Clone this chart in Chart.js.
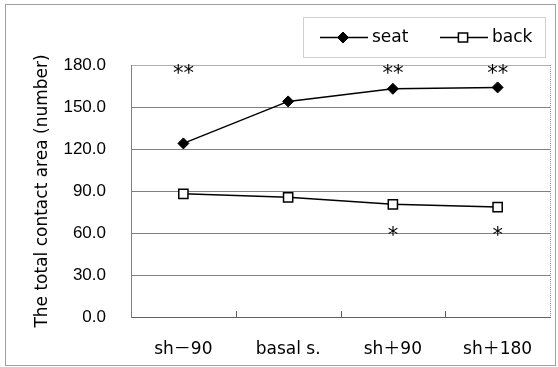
<!DOCTYPE html>
<html>
<head>
<meta charset="utf-8">
<script src="https://cdn.jsdelivr.net/npm/chart.js@4/dist/chart.umd.min.js"></script>
<style>
  html, body { margin: 0; padding: 0; background: #fff; }
  #box { width: 558px; height: 367px; }
</style>
</head>
<body>
<div id="box"><canvas id="grafico"></canvas></div>
<script>
// dati
var categorie = ['sh－90', 'basal s.', 'sh＋90', 'sh＋180'];
var valoriSeat = [124, 154, 163, 164];
var valoriBack = [88, 85.5, 80.5, 78.5];
var tickY = [0, 30, 60, 90, 120, 150, 180];

// asterischi di significativita'
var asterischiSeat = ['**', '', '**', '**'];
var asterischiBack = ['', '', '*', '*'];
var quotaAsterischiSeat = 176;
var quotaAsterischiBack = 60;

var nero = '#000000';

// cornice esterna, bordo destro, tacche asse x, asterischi e legenda
var pluginExtra = {
  id: 'extra',
  afterDraw: function(chart) {
    var ctx = chart.ctx;
    var area = chart.chartArea;
    var sx = chart.scales.x;
    var sy = chart.scales.y;
    ctx.save();

    // cornice esterna
    ctx.strokeStyle = '#a0a0a0';
    ctx.lineWidth = 1;
    ctx.strokeRect(5.5, 4.5, 550, 361);

    // bordo destro tratteggiato
    ctx.strokeStyle = '#909090';
    ctx.setLineDash([1, 1]);
    ctx.beginPath();
    ctx.moveTo(Math.round(area.right) + 0.5, area.top);
    ctx.lineTo(Math.round(area.right) + 0.5, area.bottom);
    ctx.stroke();
    ctx.setLineDash([]);

    // tacche verso l'interno fra le categorie
    ctx.strokeStyle = '#606060';
    ctx.beginPath();
    for (var i = 1; i < categorie.length; i++) {
      var xm = Math.round((sx.getPixelForValue(i - 1) + sx.getPixelForValue(i)) / 2) + 0.5;
      ctx.moveTo(xm, area.bottom);
      ctx.lineTo(xm, area.bottom - 6);
    }
    ctx.stroke();

    // asterischi
    ctx.fillStyle = nero;
    ctx.font = '21px "DejaVu Sans"';
    ctx.textAlign = 'center';
    ctx.textBaseline = 'middle';
    for (var j = 0; j < categorie.length; j++) {
      var x = sx.getPixelForValue(j);
      if (asterischiSeat[j]) ctx.fillText(asterischiSeat[j], x, sy.getPixelForValue(quotaAsterischiSeat) + 4);
      if (asterischiBack[j]) ctx.fillText(asterischiBack[j], x, sy.getPixelForValue(quotaAsterischiBack) + 4);
    }

    // legenda
    ctx.strokeStyle = '#a0a0a0';
    ctx.lineWidth = 1;
    ctx.setLineDash([1, 1]);
    ctx.strokeRect(303.5, 17.5, 242, 40);
    ctx.setLineDash([]);
    var yl = 37.5;
    var voci = chart.data.datasets;
    var xs = [320, 440];
    ctx.font = '17px "DejaVu Sans"';
    ctx.textAlign = 'left';
    for (var k = 0; k < voci.length; k++) {
      var d = voci[k];
      ctx.strokeStyle = d.borderColor;
      ctx.lineWidth = 1.5;
      ctx.beginPath();
      ctx.moveTo(xs[k], yl);
      ctx.lineTo(xs[k] + 48, yl);
      ctx.stroke();
      ctx.fillStyle = d.pointBackgroundColor;
      ctx.strokeStyle = d.pointBorderColor;
      ctx.lineWidth = d.pointBorderWidth;
      Chart.helpers.drawPoint(ctx, {
        pointStyle: d.pointStyle,
        radius: d.pointRadius,
        borderWidth: d.pointBorderWidth
      }, xs[k] + 23, yl);
      ctx.fillStyle = nero;
      ctx.fillText(d.label, xs[k] + 52, yl);
    }
    ctx.restore();
  }
};

var dati = {
  labels: categorie,
  datasets: [{
    label: 'seat',
    data: valoriSeat,
    borderColor: nero,
    backgroundColor: nero,
    borderWidth: 1.5,
    pointStyle: 'rectRot',
    pointRadius: 5.5,
    pointBackgroundColor: nero,
    pointBorderColor: nero,
    pointBorderWidth: 1
  },
  {
    label: 'back',
    data: valoriBack,
    borderColor: nero,
    backgroundColor: '#ffffff',
    borderWidth: 1.5,
    pointStyle: 'rect',
    pointRadius: 6.5,
    pointBackgroundColor: '#ffffff',
    pointBorderColor: nero,
    pointBorderWidth: 1.5
  }]
};

var opzioni = {
  responsive: true,
  maintainAspectRatio: false,
  animation: false,
  layout: { padding: { top: 65, right: 5, bottom: 0, left: 0 } },
  plugins: {
    legend: { display: false },
    tooltip: { enabled: false }
  },
  scales: {
    x: {
      offset: true,
      grid: { display: false, drawTicks: false },
      border: { display: true, color: '#606060', width: 1 },
      ticks: {
        padding: 22,
        color: nero,
        font: { family: '"DejaVu Sans", "Noto Sans CJK JP"', size: 17 }
      },
      afterFit: function(scale) { scale.height = 50; }
    },
    y: {
      min: 0,
      max: 180,
      afterBuildTicks: function(scale) {
        scale.ticks = tickY.map(function(v) { return { value: v }; });
      },
      grid: {
        drawTicks: false,
        color: function(c) { return c.tick && c.tick.value === 180 ? '#b0b0b0' : '#808080'; }
      },
      border: { display: true, color: '#808080', width: 1 },
      ticks: {
        padding: 25,
        color: nero,
        font: { family: '"Liberation Sans"', size: 17 },
        callback: function(v) { return Number(v).toFixed(1); }
      },
      title: {
        display: true,
        text: 'The total contact area (number)',
        color: nero,
        padding: { top: 32, bottom: 0 },
        font: { family: '"DejaVu Sans"', size: 17 }
      },
      afterFit: function(scale) { scale.width = 131; }
    }
  }
};

var grafico = new Chart(document.getElementById('grafico').getContext('2d'), {
  type: 'line',
  data: dati,
  options: opzioni,
  plugins: [pluginExtra]
});
</script>
</body>
</html>
